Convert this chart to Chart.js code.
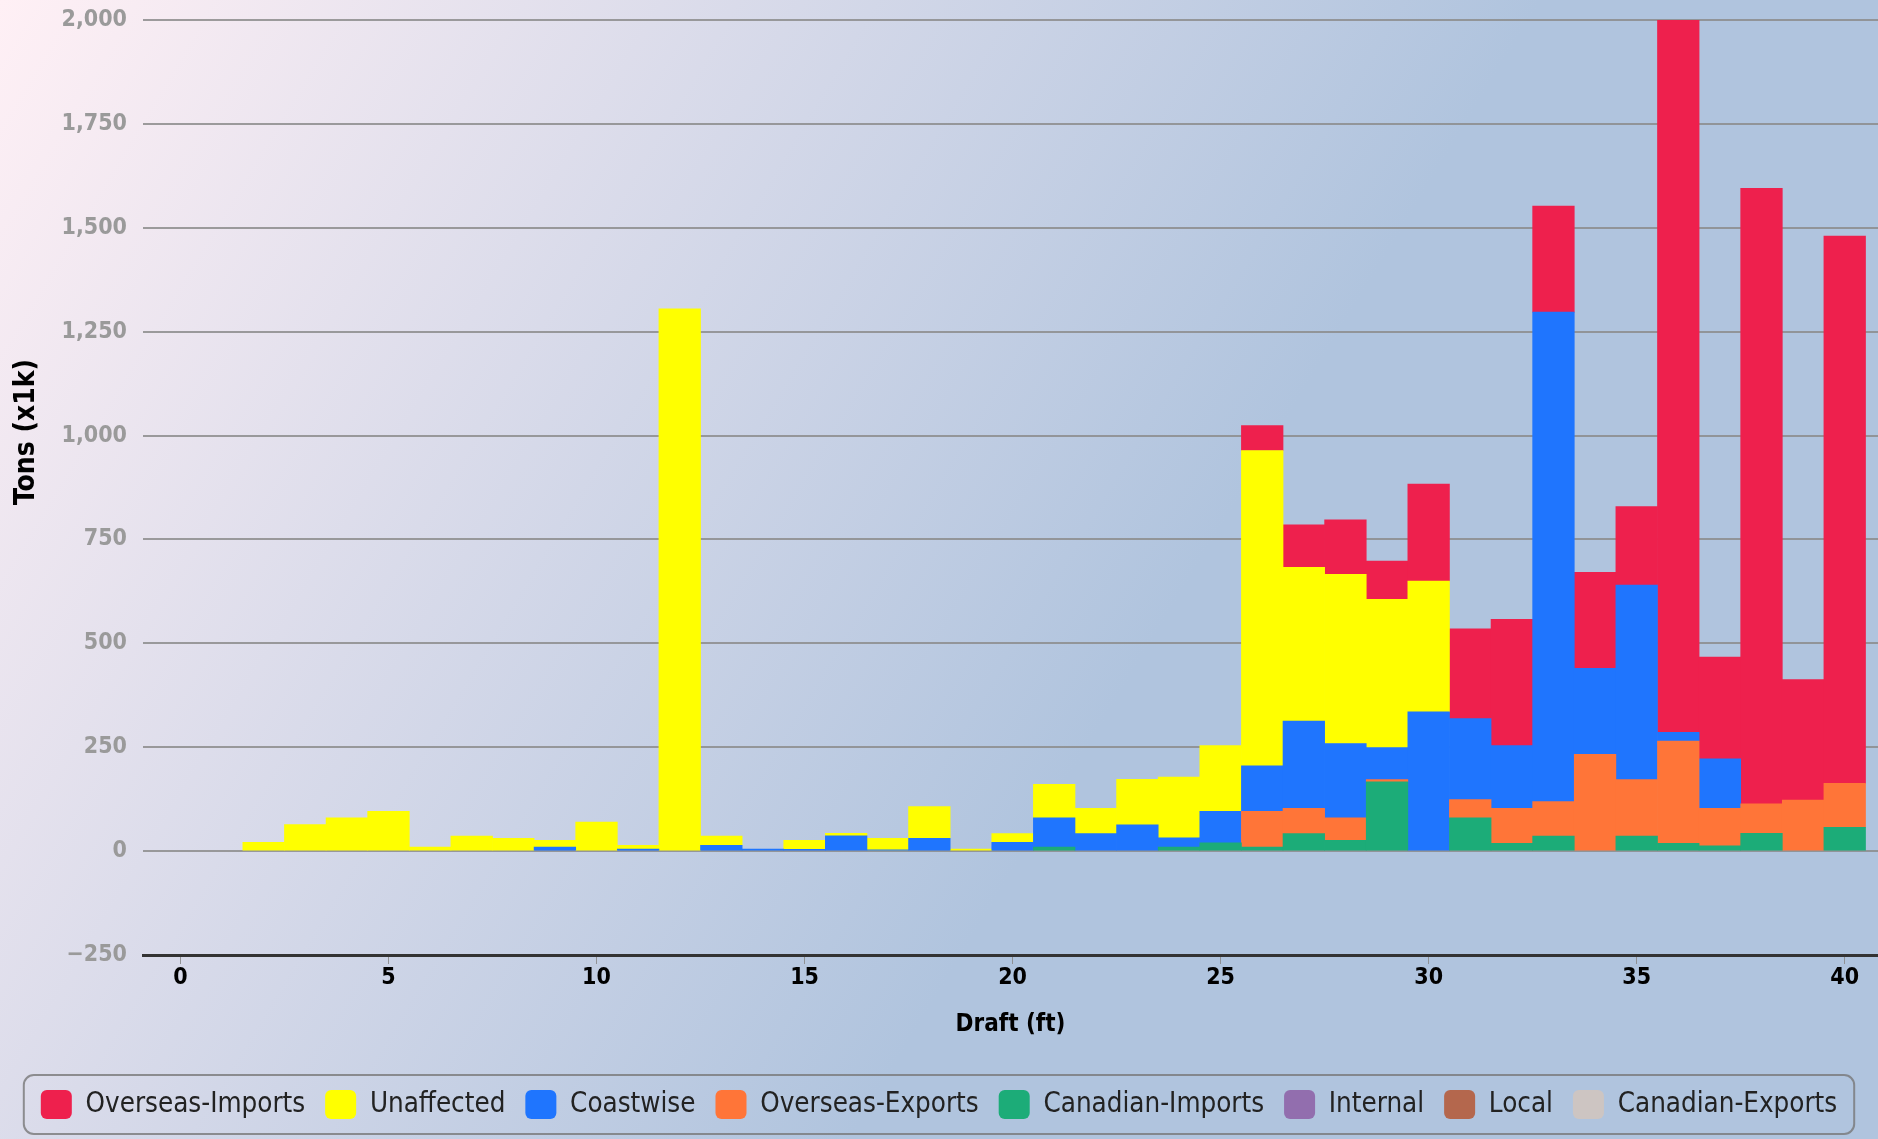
<!DOCTYPE html>
<html>
<head>
<meta charset="utf-8">
<script src="https://cdn.jsdelivr.net/npm/chart.js@4.4.0/dist/chart.umd.min.js"></script>
<style>
  html, body { margin: 0; padding: 0; }
  #wrap { width: 1878px; height: 1139px; }
</style>
</head>
<body>
<div id="wrap"><canvas id="chart"></canvas></div>
<script>
// draft (ft) bins
const drafts = [1, 2, 3, 4, 5, 6, 7, 8, 9, 10, 11, 12, 13, 14, 15, 16, 17, 18, 19, 20,
  21, 22, 23, 24, 25, 26, 27, 28, 29, 30, 31, 32, 33, 34, 35, 36, 37, 38, 39, 40];

// tons (x1k) per draft
const overseasImports = [0, 0, 0, 0, 0, 0, 0, 0, 0, 0, 0, 0, 0, 0, 0, 0, 0, 0, 0, 0,
  0, 0, 0, 0, 0, 60, 102, 131, 92, 233, 216, 304, 255, 231, 189, 1722, 245, 1481, 290, 1317];
const unaffected = [0, 21, 64, 80, 96, 10, 36, 31, 16, 70, 9, 1305, 22, 0, 22, 6, 28, 76, 5, 21,
  81, 61, 110, 146, 158, 759, 370, 407, 357, 315, 0, 0, 0, 0, 0, 0, 0, 0, 0, 0];
const coastwise = [0, 0, 0, 0, 0, 0, 0, 0, 10, 0, 5, 0, 14, 5, 4, 37, 3, 31, 0, 21,
  70, 42, 63, 22, 76, 109, 210, 179, 77, 335, 195, 151, 1178, 207, 468, 21, 119, 0, 0, 0];
const overseasExports = [0, 0, 0, 0, 0, 0, 0, 0, 0, 0, 0, 0, 0, 0, 0, 0, 0, 0, 0, 0,
  0, 0, 0, 0, 0, 86, 61, 54, 5, 0, 44, 84, 83, 233, 136, 246, 90, 71, 123, 106];
const canadianImports = [0, 0, 0, 0, 0, 0, 0, 0, 0, 0, 0, 0, 0, 0, 0, 0, 0, 0, 0, 0,
  10, 0, 0, 10, 20, 10, 42, 26, 167, 0, 80, 19, 36, 0, 36, 19, 13, 43, 0, 57];
const internal = [0, 0, 0, 0, 0, 0, 0, 0, 0, 0, 0, 0, 0, 0, 0, 0, 0, 0, 0, 0,
  0, 0, 0, 0, 0, 0, 0, 0, 0, 0, 0, 0, 0, 0, 0, 0, 0, 0, 0, 0];
const local = [0, 0, 0, 0, 0, 0, 0, 0, 0, 0, 0, 0, 0, 0, 0, 0, 0, 0, 0, 0,
  0, 0, 0, 0, 0, 0, 0, 0, 0, 0, 0, 0, 0, 0, 0, 0, 0, 0, 0, 0];
const canadianExports = [0, 0, 0, 0, 0, 0, 0, 0, 0, 0, 0, 0, 0, 0, 0, 0, 0, 0, 0, 0,
  0, 0, 0, 0, 0, 0, 0, 0, 0, 0, 0, 0, 0, 0, 0, 0, 0, 0, 0, 0];

const FONT = '"DejaVu Sans Condensed", "DejaVu Sans", sans-serif';

// bottom of the stack first, legend is shown reversed
const series = [
  { label: 'Canadian-Exports', data: canadianExports, color: '#cdc5c2' },
  { label: 'Local', data: local, color: '#b4674d' },
  { label: 'Internal', data: internal, color: '#926eae' },
  { label: 'Canadian-Imports', data: canadianImports, color: '#1cac78' },
  { label: 'Overseas-Exports', data: overseasExports, color: '#ff7538' },
  { label: 'Coastwise', data: coastwise, color: '#1f75fe' },
  { label: 'Unaffected', data: unaffected, color: '#ffff00' },
  { label: 'Overseas-Imports', data: overseasImports, color: '#ee204d' }
];

const bgPlugin = {
  id: 'bg',
  beforeDraw(chart) {
    const { ctx, width, height } = chart;
    const g = ctx.createLinearGradient(0, 0, width, height);
    g.addColorStop(0, '#fff0f5');
    g.addColorStop(0.6, '#b0c4de');
    g.addColorStop(1, '#b0c4de');
    ctx.save();
    ctx.fillStyle = g;
    ctx.fillRect(0, 0, width, height);
    ctx.restore();
  }
};

const legendFrame = {
  id: 'legendFrame',
  afterDraw(chart) {
    const boxes = chart.legend.legendHitBoxes;
    if (!boxes || !boxes.length) return;
    const ctx = chart.ctx;
    const left = Math.min(...boxes.map(b => b.left)) - 17;
    const right = Math.max(...boxes.map(b => b.left + b.width)) + 17;
    const top = boxes[0].top - 15;
    const h = boxes[0].height + 30;
    ctx.save();
    ctx.beginPath();
    ctx.roundRect(left, top, right - left, h, 10);
    ctx.strokeStyle = 'rgba(120,120,120,0.8)';
    ctx.lineWidth = 2;
    ctx.stroke();
    ctx.restore();
  }
};

const yTitle = {
  id: 'yTitle',
  afterDraw(chart) {
    const ctx = chart.ctx;
    ctx.save();
    ctx.translate(27, 432);
    ctx.rotate(-Math.PI / 2);
    ctx.font = 'bold 28px ' + FONT;
    ctx.fillStyle = '#000';
    ctx.textAlign = 'center';
    ctx.textBaseline = 'middle';
    ctx.fillText('Tons (x1k)', 0, 0);
    ctx.restore();
  }
};

new Chart(document.getElementById('chart'), {
  type: 'bar',
  data: {
    labels: drafts,
    datasets: series.map(s => ({
      label: s.label,
      // empty cells are left out so no hairline is drawn for them
      data: s.data.map(v => (v === 0 ? null : v)),
      backgroundColor: s.color,
      borderWidth: 0,
      barPercentage: 1,
      categoryPercentage: 1
    }))
  },
  options: {
    responsive: true,
    maintainAspectRatio: false,
    animation: false,
    events: [],
    layout: { padding: { top: 20, bottom: 10, left: 0, right: 0 } },
    plugins: {
      legend: {
        position: 'bottom',
        reverse: true,
        labels: {
          color: '#222',
          font: { family: FONT, size: 27.5 },
          boxWidth: 31,
          boxHeight: 29,
          useBorderRadius: true,
          borderRadius: 6,
          padding: 20
        }
      },
      tooltip: { enabled: false }
    },
    scales: {
      x: {
        type: 'linear',
        stacked: true,
        min: -0.9,
        max: 40.8,
        offset: false,
        grid: { offset: false, drawOnChartArea: false, drawTicks: true, tickLength: 9, color: 'rgba(140,140,140,0.9)', lineWidth: 1 },
        border: { display: true, color: '#333', width: 3 },
        ticks: {
          stepSize: 5,
          includeBounds: false,
          padding: 0,
          color: '#000',
          font: { family: FONT, size: 23, weight: 'bold' },
          callback: v => String(v)
        },
        title: {
          display: true,
          text: 'Draft (ft)',
          color: '#000',
          font: { family: FONT, size: 24, weight: 'bold' },
          padding: { top: 0, bottom: 31 }
        },
        afterFit: s => { s.height = 115; }
      },
      y: {
        stacked: true,
        min: -250,
        max: 2000,
        grid: { color: 'rgba(140,140,140,0.85)', lineWidth: 2, drawTicks: false },
        border: { display: false },
        ticks: {
          stepSize: 250,
          padding: 16,
          color: '#9a9a9a',
          font: { family: FONT, size: 23, weight: 'bold' },
          callback: v => (v < 0 ? '\u2212' : '') + Math.abs(v).toLocaleString('en-US')
        },
        afterFit: s => { s.width = 143; s.paddingTop = 0; s.paddingBottom = 0; }
      }
    }
  },
  plugins: [bgPlugin, legendFrame, yTitle]
});
</script>
</body>
</html>
